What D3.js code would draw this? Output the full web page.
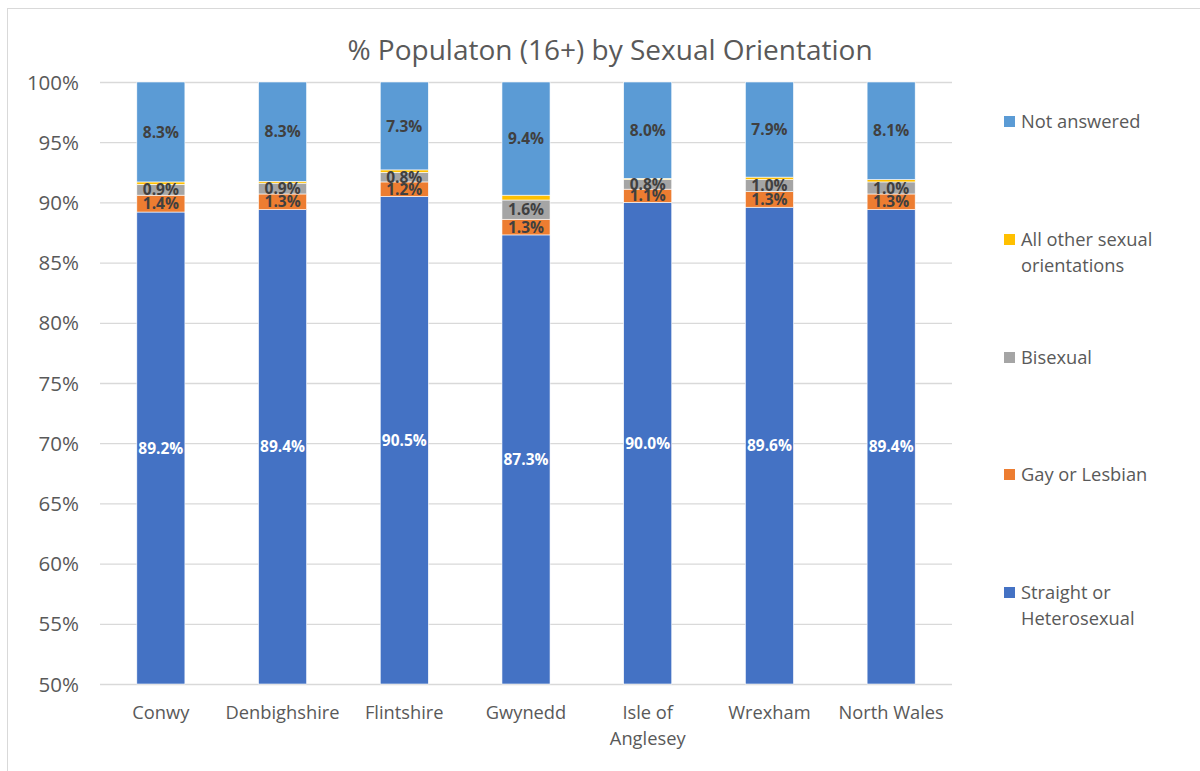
<!DOCTYPE html>
<html><head><meta charset="utf-8">
<script src="https://cdn.jsdelivr.net/npm/d3@7"></script>
<style>body{margin:0;background:#fff}svg{display:block}</style>
</head><body>
<svg id="c" width="1200" height="771"></svg>
<script>
const categories = ["Conwy","Denbighshire","Flintshire","Gwynedd","Isle of Anglesey","Wrexham","North Wales"];
const categoryLines = [["Conwy"],["Denbighshire"],["Flintshire"],["Gwynedd"],["Isle of","Anglesey"],["Wrexham"],["North Wales"]];
const straight = [89.2,89.4,90.5,87.3,90.0,89.6,89.4];
const gayLesbian = [1.4,1.3,1.2,1.3,1.1,1.3,1.3];
const bisexual = [0.9,0.9,0.8,1.6,0.8,1.0,1.0];
const otherOrientations = [0.2,0.15,0.2,0.4,0.1,0.2,0.2];
const notAnswered = [8.3,8.3,7.3,9.4,8.0,7.9,8.1];
const yTicks = [50,55,60,65,70,75,80,85,90,95,100];
const seriesNames = ["Straight or Heterosexual","Gay or Lesbian","Bisexual","All other sexual orientations","Not answered"];
const legendLines = [["Straight or","Heterosexual"],["Gay or Lesbian"],["Bisexual"],["All other sexual","orientations"],["Not answered"]];
const colors = ["#4472C4","#ED7D31","#A5A5A5","#FFC000","#5B9BD5"];
const showLabels = [true,true,true,false,true];
const labelColors = ["#FFFFFF","#404040","#404040","#404040","#404040"];

(function(){
const seriesValues = [straight,gayLesbian,bisexual,otherOrientations,notAnswered];
const rows = categories.map((c,i)=>{const r={cat:c};seriesNames.forEach((s,j)=>r[s]=seriesValues[j][i]);return r;});
const stacked = d3.stack().keys(seriesNames)(rows);

const svg = d3.select("#c");
const font = "'Open Sans', sans-serif";
const txt = "#595959";

svg.append("rect").attr("x",7.5).attr("y",8.5).attr("width",1200).attr("height",800)
  .attr("fill","none").attr("stroke","#D9D9D9").attr("stroke-width",1);

const pL=100, pR=952, pT=82, pB=684;
const x = d3.scaleBand().domain(categories).range([pL,pR]).paddingInner(0.605).paddingOuter(0.3025);
const y = d3.scaleLinear().domain([50,100]).range([pB,pT]).clamp(true);

svg.append("g").selectAll("line").data(yTicks).join("line")
  .attr("x1",pL).attr("x2",pR).attr("y1",d=>y(d)+0.5).attr("y2",d=>y(d)+0.5)
  .attr("stroke","#D9D9D9").attr("stroke-width",1.3);

const yAxis = d3.axisLeft(y).tickValues(yTicks).tickFormat(d=>d+"%").tickSize(0).tickPadding(0);
const ya = svg.append("g").attr("transform",`translate(79,0)`).call(yAxis);
ya.select(".domain").remove();
ya.selectAll("text").attr("font-family",font).attr("font-size",20.5).attr("fill",txt).attr("dy","0.35em");

const groups = svg.append("g").selectAll("g").data(stacked).join("g").attr("fill",(d,i)=>colors[i]);
groups.selectAll("rect").data(d=>d).join("rect")
  .attr("x",d=>x(d.data.cat)).attr("width",x.bandwidth())
  .attr("y",d=>y(d[1])).attr("height",d=>Math.max(0,y(d[0])-y(d[1])))
  .attr("stroke","#ffffff").attr("stroke-width",0.6);

stacked.forEach((s,i)=>{
  if(!showLabels[i]) return;
  svg.append("g").selectAll("text").data(s).join("text")
    .attr("x",d=>x(d.data.cat)+x.bandwidth()/2)
    .attr("y",d=>(y(d[0])+y(d[1]))/2)
    .attr("dy","0.36em").attr("text-anchor","middle")
    .attr("font-family",font).attr("font-weight","bold").attr("font-size",15.5)
    .attr("fill",labelColors[i])
    .text(d=>(d[1]-d[0]).toFixed(1)+"%");
});

const xl = svg.append("g").selectAll("text").data(categories).join("text")
  .attr("x",d=>x(d)+x.bandwidth()/2).attr("y",719)
  .attr("text-anchor","middle").attr("font-family",font).attr("font-size",18.3).attr("fill",txt);
xl.each(function(d,i){
  const t=d3.select(this);
  categoryLines[i].forEach((ln,k)=>t.append("tspan").attr("x",x(d)+x.bandwidth()/2).attr("dy",k===0?0:26).text(ln));
});

svg.append("text").attr("x",610).attr("y",60).attr("text-anchor","middle")
  .attr("font-family",font).attr("font-size",28).attr("fill",txt)
  .text("% Populaton (16+) by Sexual Orientation");

const legendY = [592,474,357,239,121];
seriesNames.forEach((s,i)=>{
  const g = svg.append("g");
  g.append("rect").attr("x",1004).attr("y",legendY[i]-5).attr("width",11).attr("height",11).attr("fill",colors[i]);
  const t = g.append("text").attr("x",1021).attr("y",legendY[i]+6.5).attr("font-family",font).attr("font-size",18.3).attr("fill",txt);
  legendLines[i].forEach((ln,k)=>t.append("tspan").attr("x",1021).attr("dy",k===0?0:26).text(ln));
});
})();
</script>
</body></html>
